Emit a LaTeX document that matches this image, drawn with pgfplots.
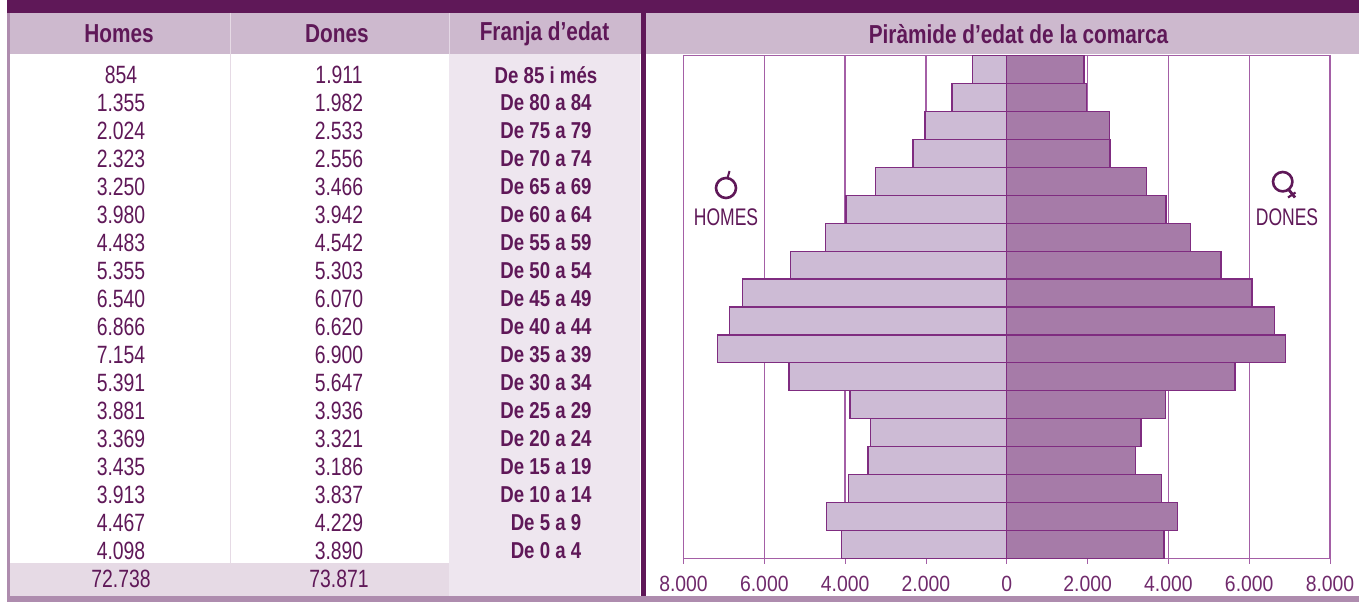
\documentclass[border=0pt]{standalone}
\usepackage{pgfplots}
\usepackage{pgfplotstable}
\pgfplotsset{compat=1.18}
\usepackage{fontspec}
\setmainfont{Liberation Sans}
\newfontfamily\valf[FakeStretch=0.775]{Liberation Sans}
\newfontfamily\headf[FakeStretch=0.8]{Liberation Sans}
\newfontfamily\labf[FakeStretch=0.81]{Liberation Sans}
\newfontfamily\sexf[FakeStretch=0.73]{Liberation Sans}
\newfontfamily\tickf[FakeStretch=0.88]{Liberation Sans}
\definecolor{dark}{HTML}{5F1858}
\definecolor{band}{HTML}{CDB9CE}
\definecolor{frame}{HTML}{AE8CAE}
\definecolor{col3}{HTML}{EEE6EF}
\definecolor{total}{HTML}{E6DAE5}
\definecolor{sep}{HTML}{E6DAE5}
\definecolor{men}{HTML}{CDBBD5}
\definecolor{women}{HTML}{A67BA8}
\definecolor{edge}{HTML}{7F2C80}
\definecolor{gridc}{HTML}{A45FA6}
\pgfplotstableread{
pos homes dones
0 -4098 3890
1 -4467 4229
2 -3913 3837
3 -3435 3186
4 -3369 3321
5 -3881 3936
6 -5391 5647
7 -7154 6900
8 -6866 6620
9 -6540 6070
10 -5355 5303
11 -4483 4542
12 -3980 3942
13 -3250 3466
14 -2323 2556
15 -2024 2533
16 -1355 1982
17 -854 1911
}\pyr
\begin{document}
\begin{tikzpicture}[x=1pt,y=1pt]
\useasboundingbox (0,0) rectangle (1359,602);
\begin{scope}[shift={(0,602)},y=-1pt]
\fill[white] (0,0) rectangle (1359,602);
\fill[col3] (449,54) rectangle (640,596);
\fill[total] (10,563) rectangle (449,596);
\fill[band] (10,13) rectangle (1359,54);
\fill[dark] (7,0) rectangle (1359,13);
\fill[frame] (7,13) rectangle (10,602);
\fill[frame] (7,596) rectangle (1359,602);
\draw[sep,line width=1pt] (230,13) -- (230,596);
\fill[col3!70!band] (449,13) rectangle (450,54);
\fill[dark] (640.5,13) rectangle (645.5,596);
% header
\foreach \x/\t in {119/Homes,337/Dones,544.5/Franja d’edat,1018.5/Pir\`amide d’edat de la comarca}
  \node[text=dark,inner sep=0pt] at (\x,34) {\headf\bfseries\fontsize{26}{28}\selectfont \t};
% rows
\foreach \i/\a/\b/\c in {0/854/1.911/De 85 i més,1/1.355/1.982/De 80 a 84,2/2.024/2.533/De 75 a 79,3/2.323/2.556/De 70 a 74,4/3.250/3.466/De 65 a 69,5/3.980/3.942/De 60 a 64,6/4.483/4.542/De 55 a 59,7/5.355/5.303/De 50 a 54,8/6.540/6.070/De 45 a 49,9/6.866/6.620/De 40 a 44,10/7.154/6.900/De 35 a 39,11/5.391/5.647/De 30 a 34,12/3.881/3.936/De 25 a 29,13/3.369/3.321/De 20 a 24,14/3.435/3.186/De 15 a 19,15/3.913/3.837/De 10 a 14,16/4.467/4.229/De 5 a 9,17/4.098/3.890/De 0 a 4}{
  \pgfmathsetmacro{\yy}{75+28*\i}
  \node[text=dark,inner sep=0pt] at (121,\yy) {\valf\fontsize{25}{28}\selectfont \a};
  \node[text=dark,inner sep=0pt] at (339,\yy) {\valf\fontsize{25}{28}\selectfont \b};
  \node[text=dark,inner sep=0pt] at (546,\yy) {\labf\bfseries\fontsize{23}{28}\selectfont \c};
}
\node[text=dark,inner sep=0pt] at (121,579) {\valf\fontsize{25}{28}\selectfont 72.738};
\node[text=dark,inner sep=0pt] at (339,579) {\valf\fontsize{25}{28}\selectfont 73.871};
\end{scope}
\begin{axis}[
  at={(683.5pt,43.5pt)},anchor=south west,
  scale only axis,width=646.5pt,height=503pt,
  xmin=-8000,xmax=8000,ymin=-0.5,ymax=17.5,
  xbar,bar width=1,bar shift=0pt,
  axis line style={gridc,line width=1.1pt},
  xtick={-8000,-6000,-4000,-2000,0,2000,4000,6000,8000},
  xticklabels={8.000,6.000,4.000,2.000,0,2.000,4.000,6.000,8.000},
  ytick=\empty,
  xmajorgrids,grid style={gridc,line width=1.3pt},
  tick style={gridc,line width=0.8pt},
  tick align=outside,xtick pos=bottom,major tick length=5pt,
  tick label style={text=dark!75!gridc,font=\tickf\fontsize{22}{24}\selectfont},
  /pgf/number format/assume math mode=true,
  xticklabel style={yshift=-9pt},
  clip=false,
]
\addplot[fill=men,draw=edge,line width=1.2pt] table[x=homes,y=pos]{\pyr};
\addplot[fill=women,draw=edge,line width=1.2pt] table[x=dones,y=pos]{\pyr};
\end{axis}
\begin{scope}[shift={(0,602)},y=-1pt]
\node[text=dark,inner sep=0pt] at (726,217) {\sexf\fontsize{24}{26}\selectfont HOMES};
\node[text=dark,inner sep=0pt] at (1287,217) {\sexf\fontsize{24}{26}\selectfont DONES};
\draw[dark,line width=2.6pt] (726,188) circle (10);
\draw[dark,line width=2pt] (727.5,178) -- (729.5,171);
\draw[dark,line width=2.6pt] (1282.7,181.7) circle (9.7);
\draw[dark,line width=2.8pt] (1289,190) -- (1295,197.5);
\draw[dark,line width=2.2pt] (1295.5,192.5) -- (1288,197.5);
\end{scope}
\end{tikzpicture}
\end{document}
